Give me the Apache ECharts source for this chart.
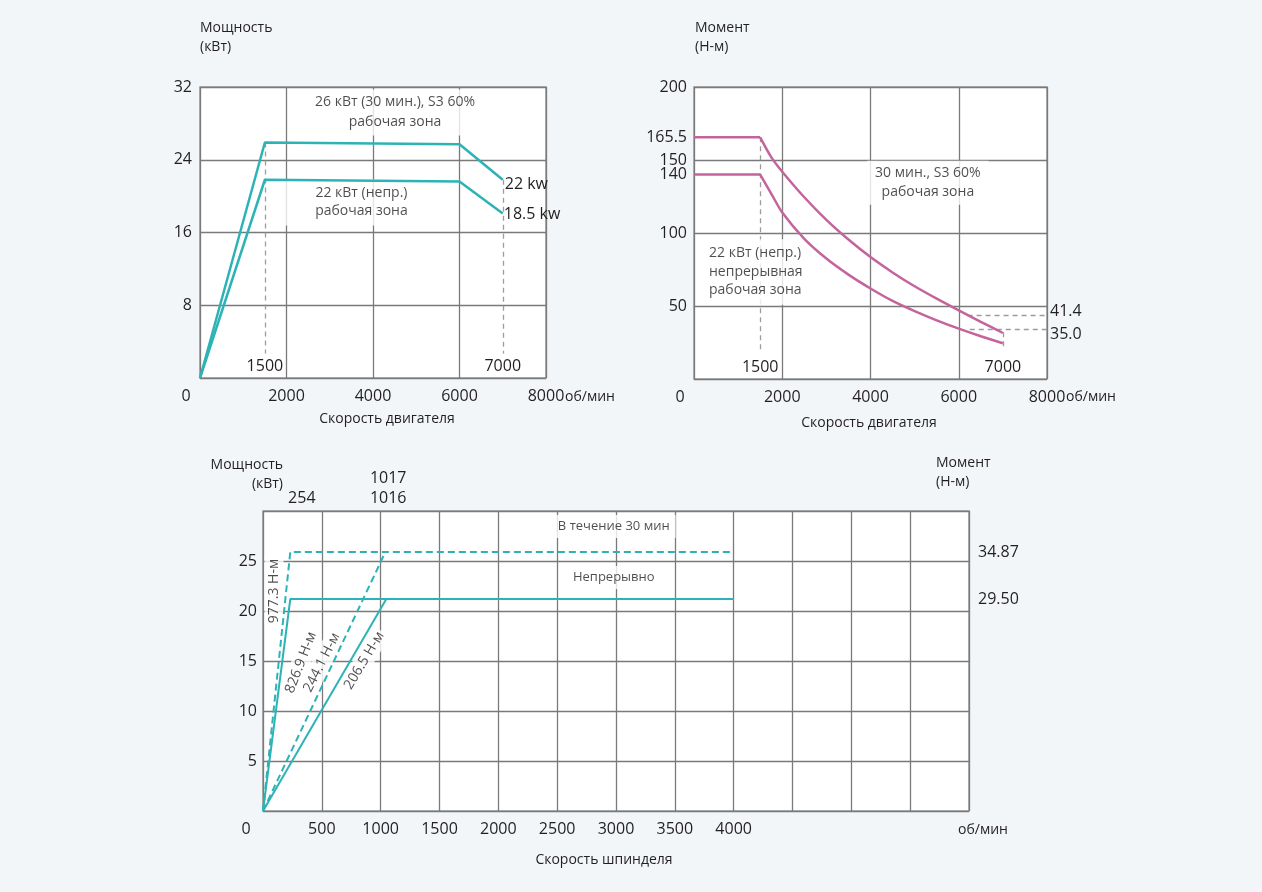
<!DOCTYPE html>
<html><head><meta charset="utf-8">
<script src="https://cdn.jsdelivr.net/npm/echarts@6/dist/echarts.min.js"></script>
<style>html,body{margin:0;padding:0;background:#f2f6f9;}#c{width:1262px;height:892px;}</style>
</head><body><div id="c"></div>
<script>
// ---------------- data ----------------
// top-left: motor power (kW) vs motor speed (rpm)
const motorSpeedMarks = [1500, 7000];
const power30min = [[0, 0], [1500, 25.9], [6000, 25.7], [7000, 21.8]];
const powerCont = [[0, 0], [1500, 21.8], [6000, 21.6], [7000, 18.1]];
const powerEndLabels = ['22 kw', '18.5 kw'];
const powerGuides = [[[1500, 25.9], [1500, 2.7]], [[7000, 21.8], [7000, 2.7]]];
const powerNotes = [[4509, 29.2, '26 кВт (30 мин.), S3 60%\nрабочая зона'], [3733, 19.3, '22 кВт (непр.)\nрабочая зона']];

// top-right: motor torque (N·m) vs motor speed
const torqueTicks = [50, 100, 140, 150, 165.5, 200];
const torque30Flat = [[0, 165.5], [1500, 165.5]];
const torque30Curve = [[1500, 165.5], [1750, 152], [2000, 142], [2500, 124.5], [3000, 109], [3500, 95.5], [4000, 83.5], [4500, 73], [5000, 63.5], [5500, 55], [6000, 47], [6500, 39.2], [7000, 31.5]];
const torqueContFlat = [[0, 140], [1500, 140]];
const torqueContCurve = [[1500, 140], [1750, 127], [2000, 114], [2500, 96], [3000, 82.5], [3500, 71.5], [4000, 62], [4500, 53.5], [5000, 46.5], [5500, 40.2], [6000, 34.5], [6500, 29.3], [7000, 24.5]];
const torqueRightTicks = [46.4, 30.6];
const torqueRightLabels = ['41.4', '35.0'];
const torqueGuides = [[[1500, 165.5], [1500, 19]], [[7000, 32], [7000, 21]], [[6200, 44], [8000, 44]], [[6250, 33.8], [8000, 33.8]]];
const torqueNotes = [[5300, 134.4, '30 мин., S3 60%\nрабочая зона'], [204, 73.3, '22 кВт (непр.)\nнепрерывная\nрабочая зона']];

// bottom: spindle power (kW) vs spindle speed
const spindleTopTicks = [330, 1064];
const spindleTopLabels = ['254', '1017\n1016'];
const spindleRightTicks = [25.9, 21.2];
const spindleRightLabels = ['34.87', '29.50'];
const spindle30Steep = [[0, 0], [232, 25.9], [4000, 25.9]];
const spindle30Shallow = [[0, 0], [1040, 25.9]];
const spindleContSteep = [[0, 0], [232, 21.2], [4000, 21.2]];
const spindleContShallow = [[0, 0], [1048, 21.2]];
const spindleNotes = [[2981, 28.45, 'В течение 30 мин'], [2981, 23.35, 'Непрерывно']];
const spindleTorqueNotes = [[94, 22, '977.3 Н-м'], [322, 14.85, '826.9 Н-м'], [500, 14.85, '244.1 Н-м'], [860, 15.05, '206.5 Н-м']];
const spindleTorqueAngles = [90, 69, 63, 59];

// ---------------- styles ----------------
const FONT = "'Open Sans', 'Noto Sans', sans-serif";
const TXT = '#231f20';
const TEAL = '#2db3b6';
const PINK = '#c4649c';
const gridLine = { show: true, lineStyle: { color: '#7a7a7a', width: 1.3 } };
const hide = { show: false };
function lab(extra) { return Object.assign({ fontFamily: FONT, color: TXT, fontSize: 16 }, extra); }

function xMain(gi, max, interval, zeroShift, maxShown) {
  return {
    type: 'value', gridIndex: gi, min: 0, max: max, interval: interval,
    axisLine: hide, axisTick: hide, splitLine: gridLine,
    axisLabel: lab({
      margin: 10,
      formatter: v => v === 0 ? '{z|0}' : (v <= maxShown ? String(v) : ''),
      rich: { z: { fontFamily: FONT, color: TXT, fontSize: 16, padding: [0, zeroShift * 2, 0, 0] } }
    })
  };
}
function xCustom(gi, max, pos, ticks, labels, margin, inside) {
  return {
    type: 'value', gridIndex: gi, min: 0, max: max, position: pos,
    axisLine: hide, axisTick: hide, splitLine: hide,
    axisLabel: lab({ inside: !!inside, margin: margin, customValues: ticks, lineHeight: 20,
      formatter: v => labels ? labels[ticks.indexOf(v)] : String(v) })
  };
}
function yMain(gi, max, interval, margin, hideMax, custom) {
  const o = {
    type: 'value', gridIndex: gi, min: 0, max: max, interval: interval,
    axisLine: hide, axisTick: hide, splitLine: gridLine,
    axisLabel: lab({ margin: margin, formatter: v => (v === 0 || (hideMax && v === max)) ? '' : String(v) })
  };
  if (custom) o.axisLabel.customValues = custom;
  return o;
}
function yRight(gi, max, ticks, labels, margin) {
  return {
    type: 'value', gridIndex: gi, min: 0, max: max, position: 'right',
    axisLine: hide, axisTick: hide, splitLine: hide,
    axisLabel: lab({ margin: margin, customValues: ticks, formatter: v => labels[ticks.indexOf(v)] })
  };
}
function curve(data, xi, yi, color, extra) {
  return Object.assign({
    type: 'line', xAxisIndex: xi, yAxisIndex: yi, data: data, symbol: 'none', z: 3, silent: true,
    lineStyle: { color: color, width: 2.5 }, itemStyle: { color: color }
  }, extra || {});
}
function guides(pairs) {
  return {
    silent: true, symbol: ['none', 'none'], z: 1, animation: false,
    label: { show: false }, emphasis: { disabled: true },
    lineStyle: { type: [5, 4], color: '#9c9c9c', width: 1.3 },
    data: pairs.map(p => [{ coord: p[0] }, { coord: p[1] }])
  };
}
function notes(list, xi, yi, styles) {
  return {
    type: 'scatter', xAxisIndex: xi, yAxisIndex: yi, z: 2, silent: true,
    symbolSize: 1, itemStyle: { color: 'rgba(0,0,0,0)' },
    data: list.map((n, i) => ({
      value: [n[0], n[1]],
      label: Object.assign({
        show: true, position: 'inside', formatter: n[2], fontFamily: FONT, color: TXT, fontSize: 14,
        lineHeight: 19, backgroundColor: '#fff', padding: [2, 4, 2, 4], align: 'center', verticalAlign: 'middle'
      }, styles[i] || {})
    }))
  };
}
function t(text, x, y, align, size) {
  return { type: 'text', x: x, y: y, silent: true,
    style: { text: text, fill: TXT, fontSize: size || 14, fontFamily: FONT, align: align || 'left', textAlign: align || 'left', verticalAlign: 'middle', textVerticalAlign: 'middle' } };
}

const option = {
  backgroundColor: '#f2f6f9',
  animation: false,
  grid: [
    { left: 200, top: 87, width: 346, height: 291, show: true, backgroundColor: '#fff', borderColor: '#9c9c9c', borderWidth: 1.6 },
    { left: 694, top: 87, width: 353, height: 292, show: true, backgroundColor: '#fff', borderColor: '#9c9c9c', borderWidth: 1.6 },
    { left: 263, top: 511, width: 706, height: 300, show: true, backgroundColor: '#fff', borderColor: '#9c9c9c', borderWidth: 1.6 }
  ],
  xAxis: [
    xMain(0, 8000, 2000, 14, 8000),
    xCustom(0, 8000, 'bottom', motorSpeedMarks, null, 2, true),
    xMain(1, 8000, 2000, 14, 8000),
    xCustom(1, 8000, 'bottom', motorSpeedMarks, null, 2, true),
    xMain(2, 6000, 500, 17, 4000),
    xCustom(2, 6000, 'top', spindleTopTicks, spindleTopLabels, 3, false)
  ],
  yAxis: [
    yMain(0, 32, 8, 8, false),
    yMain(1, 200, 50, 7, false, torqueTicks),
    yRight(1, 200, torqueRightTicks, torqueRightLabels, 3),
    yMain(2, 30, 5, 6, true),
    yRight(2, 30, spindleRightTicks, spindleRightLabels, 9)
  ],
  series: [
    // top-left
    curve(power30min, 0, 0, TEAL, {
      endLabel: { show: true, formatter: powerEndLabels[0], fontFamily: FONT, color: TXT, fontSize: 16, distance: 2, offset: [0, 5] },
      markLine: guides(powerGuides)
    }),
    curve(powerCont, 0, 0, TEAL, {
      endLabel: { show: true, formatter: powerEndLabels[1], fontFamily: FONT, color: TXT, fontSize: 16, distance: 1, offset: [0, 1] }
    }),
    notes(powerNotes, 0, 0, [{ padding: [3, 4, 3, 4], lineHeight: 20 }, { padding: [2, 30, 8, 30], lineHeight: 18 }]),
    // top-right
    curve(torque30Flat, 2, 1, PINK, { markLine: guides(torqueGuides) }),
    curve(torque30Curve, 2, 1, PINK, { smooth: 0.25 }),
    curve(torqueContFlat, 2, 1, PINK),
    curve(torqueContCurve, 2, 1, PINK, { smooth: 0.25 }),
    notes(torqueNotes, 2, 1, [{ padding: [2, 8, 4, 8] }, { align: 'left', padding: [4, 8, 6, 6], lineHeight: 18.5 }]),
    // bottom
    curve(spindle30Steep, 4, 3, TEAL, { lineStyle: { color: TEAL, width: 2, type: [7, 4] } }),
    curve(spindle30Shallow, 4, 3, TEAL, { lineStyle: { color: TEAL, width: 2, type: [7, 4] } }),
    curve(spindleContSteep, 4, 3, TEAL, { lineStyle: { color: TEAL, width: 2 } }),
    curve(spindleContShallow, 4, 3, TEAL, { lineStyle: { color: TEAL, width: 2 } }),
    notes(spindleNotes, 4, 3, [{ fontSize: 13, padding: [2, 6, 2, 6] }, { fontSize: 13, padding: [2, 6, 2, 6] }]),
    notes(spindleTorqueNotes, 4, 3, spindleTorqueAngles.map(a => ({ rotate: a, padding: [0, 2, 0, 2] })))
  ],
  graphic: [
    t('Мощность', 200, 28), t('(кВт)', 200, 47),
    t('Момент', 695, 28), t('(Н-м)', 695, 47),
    t('Скорость двигателя', 387, 419, 'center'), t('Скорость двигателя', 869, 423, 'center'),
    t('об/мин', 565, 397), t('об/мин', 1066, 397), t('об/мин', 958, 830),
    t('Мощность', 283, 465, 'right'), t('(кВт)', 283, 484, 'right'),
    t('Момент', 936, 463), t('(Н-м)', 936, 482),
    t('Скорость шпинделя', 604, 860, 'center')
  ]
};
const chart = echarts.init(document.getElementById('c'), null, { renderer: 'canvas' });
chart.setOption(option);
</script>
</body></html>
